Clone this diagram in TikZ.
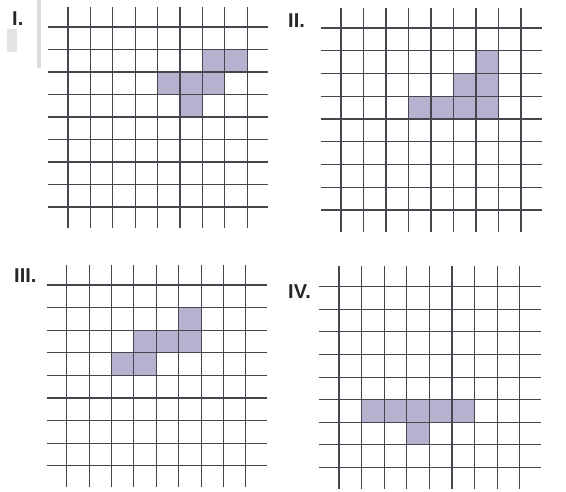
\documentclass[tikz,border=0pt]{standalone}
\usepackage{fontspec}
\setmainfont{Liberation Sans}
\definecolor{gridline}{RGB}{70,70,78}
\definecolor{shade}{RGB}{180,178,206}
\tikzset{
  gridrule/.style={draw=gridline, line width=1.1pt},
  cell/.style={fill=shade},
  panellabel/.style={anchor=base west, inner sep=0pt, font=\fontsize{20}{22}\selectfont\bfseries, text=black!85},
}
\newcommand\panelgrid{%
  \foreach \i in {0,...,8} {
    \draw[gridrule] (\i,-0.9) -- (\i,8.95);
    \draw[gridrule] (-0.9,\i) -- (8.95,\i);
  }%
}
\begin{document}
\begin{tikzpicture}[x=1pt,y=-1pt]
\useasboundingbox (0,0) rectangle (566,491);
% scan marks
\fill[gray!28] (37,0) rectangle (41,68);
\fill[gray!22] (7,29) rectangle (17,52);
% Panel I
\begin{scope}[shift={(68,27)}, x=22.4pt, y=-22.5pt]
  \fill[cell] (6,1) rectangle (8,2);
  \fill[cell] (4,2) rectangle (7,3);
  \fill[cell] (5,3) rectangle (6,4);
  \panelgrid
\end{scope}
% Panel II
\begin{scope}[shift={(341,28)}, x=22.5pt, y=-22.75pt]
  \fill[cell] (6,1) rectangle (7,2);
  \fill[cell] (5,2) rectangle (7,3);
  \fill[cell] (3,3) rectangle (7,4);
  \panelgrid
\end{scope}
% Panel III
\begin{scope}[shift={(66.7,285)}, x=22.4pt, y=-22.6pt]
  \fill[cell] (5,1) rectangle (6,2);
  \fill[cell] (3,2) rectangle (6,3);
  \fill[cell] (2,3) rectangle (4,4);
  \panelgrid
\end{scope}
% Panel IV
\begin{scope}[shift={(339,286.7)}, x=22.6pt, y=-22.6pt]
  \fill[cell] (1,5) rectangle (6,6);
  \fill[cell] (3,6) rectangle (4,7);
  \panelgrid
\end{scope}
\node[panellabel] (labI) at (12,25) {I.};
\node[panellabel] (labII) at (288,27) {II.};
\node[panellabel] (labIII) at (14,282) {III.};
\node[panellabel] (labIV) at (288,298) {IV.};
\end{tikzpicture}
\end{document}
